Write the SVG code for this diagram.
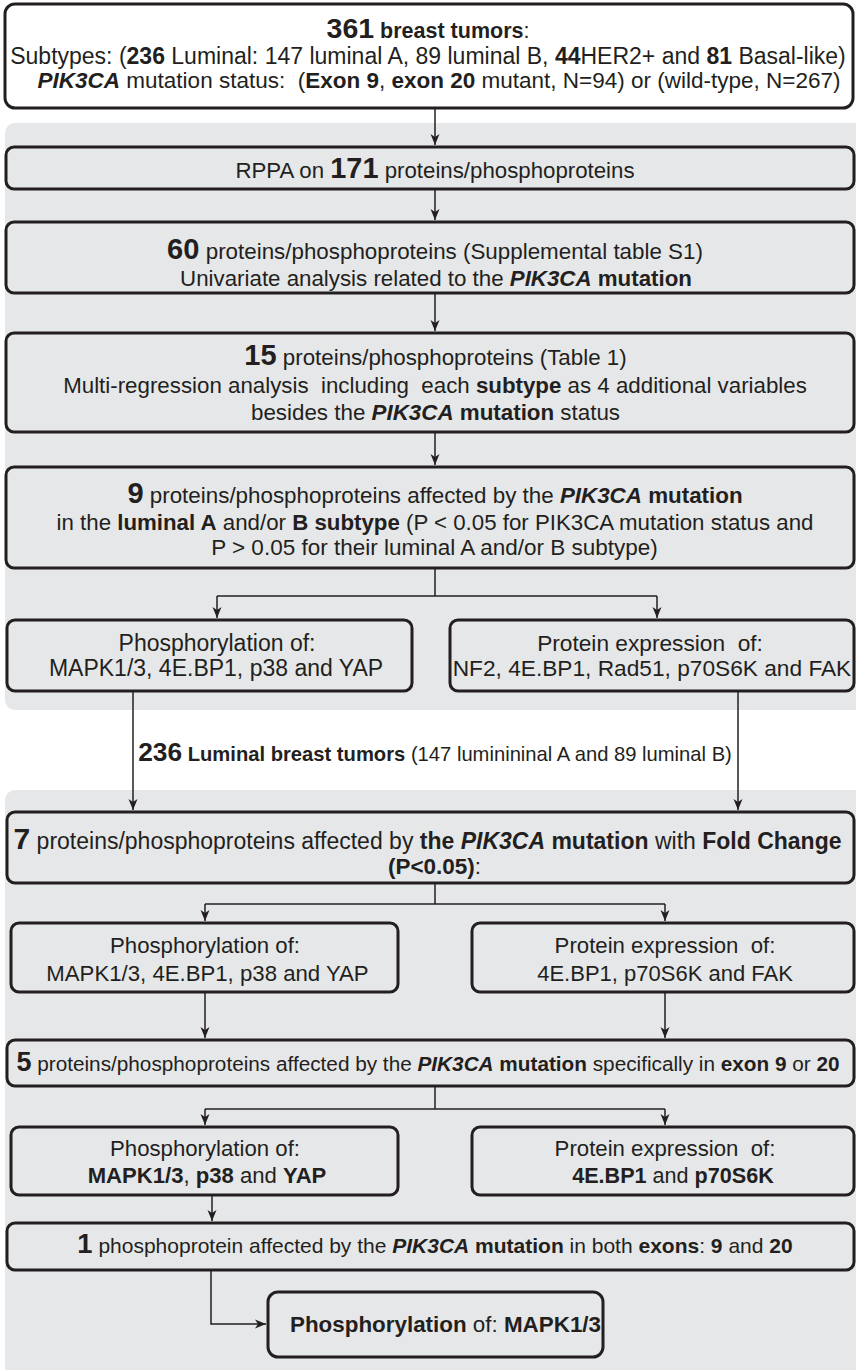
<svg xmlns="http://www.w3.org/2000/svg" width="856" height="1370" viewBox="0 0 856 1370">
<style>
.t{font-family:"Liberation Sans",Arial,Helvetica,sans-serif;font-size:22.3px;fill:#231f20;white-space:pre;text-anchor:middle}
.b{font-weight:bold}
.bi{font-weight:bold;font-style:italic}
.n{font-weight:bold}
.panel{fill:#e6e7e8;stroke:none}
.box{fill:none;stroke:#231f20;stroke-width:3}
.c{fill:none;stroke:#231f20;stroke-width:1.5}
</style>
<defs>
<marker id="ah" markerUnits="userSpaceOnUse" markerWidth="12" markerHeight="10" viewBox="0 0 12 10" refX="11" refY="5" orient="auto">
<path d="M0,0.5 L11,5 L0,9.5 L3,5 Z" fill="#231f20"/>
</marker>
</defs>

<rect class="panel" x="5" y="123" width="870" height="587" rx="10"/>
<rect class="panel" x="5" y="790" width="870" height="600" rx="10"/>

<g id="n-top">
<rect x="5" y="4" width="848" height="104" rx="10" fill="#fff" stroke="#231f20" stroke-width="3"/>
<text class="t" x="428" y="38" style="font-size:21.5px"><tspan class="n" style="font-size:28.5px">361</tspan><tspan class="b"> breast tumors</tspan>:</text>
<text class="t" x="428" y="64" style="font-size:23px">Subtypes: (<tspan class="b">236</tspan> Luminal: 147 luminal A, 89 luminal B, <tspan class="b">44</tspan>HER2+ and <tspan class="b">81</tspan> Basal-like)</text>
<text class="t" x="439" y="88" style="font-size:22.5px"><tspan class="bi">PIK3CA</tspan> mutation status:  (<tspan class="b">Exon 9</tspan>, <tspan class="b">exon 20</tspan> mutant, N=94) or (wild-type, N=267)</text>
</g>

<g id="n-rppa">
<rect class="box" x="6" y="147" width="848" height="42" rx="8"/>
<text class="t" x="435" y="178" style="font-size:22.25px">RPPA on <tspan class="n" style="font-size:28.9px">171</tspan> proteins/phosphoproteins</text>
</g>

<g id="n-60">
<rect class="box" x="6" y="222" width="848" height="71" rx="8"/>
<text class="t" x="435" y="259" style="font-size:22.37px"><tspan class="n" style="font-size:29.1px">60</tspan> proteins/phosphoproteins (Supplemental table S1)</text>
<text class="t" x="436" y="286" style="font-size:22.31px">Univariate analysis related to the <tspan class="bi">PIK3CA</tspan><tspan class="b"> mutation</tspan></text>
</g>

<g id="n-15">
<rect class="box" x="6" y="333" width="848" height="99" rx="8"/>
<text class="t" x="435.5" y="365" style="font-size:22.34px"><tspan class="n" style="font-size:29px">15</tspan> proteins/phosphoproteins (Table 1)</text>
<text class="t" x="435" y="393" style="font-size:22.31px">Multi-regression analysis  including  each <tspan class="b">subtype</tspan> as 4 additional variables</text>
<text class="t" x="435.5" y="420" style="font-size:22.36px">besides the <tspan class="bi">PIK3CA</tspan><tspan class="b"> mutation</tspan> status</text>
</g>

<g id="n-9">
<rect class="box" x="6" y="467" width="848" height="101" rx="8"/>
<text class="t" x="435" y="503" style="font-size:22.39px"><tspan class="n" style="font-size:29.1px">9</tspan> proteins/phosphoproteins affected by the <tspan class="bi">PIK3CA</tspan><tspan class="b"> mutation</tspan></text>
<text class="t" x="435" y="530" style="font-size:22.27px">in the <tspan class="b">luminal A</tspan> and/or <tspan class="b">B subtype</tspan> (P &lt; 0.05 for PIK3CA mutation status and</text>
<text class="t" x="434.5" y="555" style="font-size:22.5px">P &gt; 0.05 for their luminal A and/or B subtype)</text>
</g>

<g id="n-r1-left">
<rect class="box" x="7" y="620" width="405" height="71" rx="8"/>
<text class="t" x="217" y="651" style="font-size:23px">Phosphorylation of:</text>
<text class="t" x="216" y="676" style="font-size:23px">MAPK1/3, 4E.BP1, p38 and YAP</text>
</g>

<g id="n-r1-right">
<rect class="box" x="450" y="620" width="404" height="71" rx="8"/>
<text class="t" x="650" y="651" style="font-size:22.7px">Protein expression  of:</text>
<text class="t" x="652" y="676" style="font-size:22.7px">NF2, 4E.BP1, Rad51, p70S6K and FAK</text>
</g>

<g id="n-236">
<text class="t" x="435" y="761" style="font-size:20.2px"><tspan class="n" style="font-size:26.3px">236</tspan><tspan class="b"> Luminal breast tumors</tspan> (147 luminininal A and 89 luminal B)</text>
</g>

<g id="n-7">
<rect class="box" x="7" y="812" width="847" height="71" rx="8"/>
<text class="t" x="427.5" y="849" style="font-size:23px"><tspan class="n" style="font-size:30px">7</tspan> proteins/phosphoproteins affected by <tspan class="b">the </tspan><tspan class="bi">PIK3CA</tspan><tspan class="b"> mutation</tspan> with <tspan class="b">Fold Change</tspan></text>
<text class="t" x="434.5" y="874" style="font-size:22.5px"><tspan class="b">(P&lt;0.05)</tspan>:</text>
</g>

<g id="n-r2-left">
<rect class="box" x="11" y="923" width="387" height="69" rx="8"/>
<text class="t" x="205" y="953" style="font-size:22.2px">Phosphorylation of:</text>
<text class="t" x="207.5" y="981" style="font-size:22.2px">MAPK1/3, 4E.BP1, p38 and YAP</text>
</g>

<g id="n-r2-right">
<rect class="box" x="472" y="923" width="382" height="69" rx="8"/>
<text class="t" x="665" y="953" style="font-size:22.2px">Protein expression  of:</text>
<text class="t" x="665" y="981" style="font-size:22px">4E.BP1, p70S6K and FAK</text>
</g>

<g id="n-5">
<rect class="box" x="7" y="1040" width="847" height="46" rx="8"/>
<text class="t" x="428" y="1071" style="font-size:20.76px"><tspan class="n" style="font-size:27px">5</tspan> proteins/phosphoproteins affected by the <tspan class="bi">PIK3CA</tspan><tspan class="b"> mutation</tspan> specifically in <tspan class="b">exon 9</tspan> or <tspan class="b">20</tspan></text>
</g>

<g id="n-r3-left">
<rect class="box" x="11" y="1127" width="387" height="68" rx="8"/>
<text class="t" x="205" y="1156" style="font-size:22.2px">Phosphorylation of:</text>
<text class="t" x="207" y="1183" style="font-size:22.1px"><tspan class="b">MAPK1/3</tspan>, <tspan class="b">p38</tspan> and <tspan class="b">YAP</tspan></text>
</g>

<g id="n-r3-right">
<rect class="box" x="472" y="1127" width="382" height="68" rx="8"/>
<text class="t" x="665" y="1156" style="font-size:22.2px">Protein expression  of:</text>
<text class="t" x="673" y="1183" style="font-size:21.6px"><tspan class="b">4E.BP1</tspan> and <tspan class="b">p70S6K</tspan></text>
</g>

<g id="n-1">
<rect class="box" x="7" y="1223" width="847" height="47" rx="8"/>
<text class="t" x="435" y="1253" style="font-size:21px"><tspan class="n" style="font-size:27.3px">1</tspan> phosphoprotein affected by the <tspan class="bi">PIK3CA</tspan><tspan class="b"> mutation</tspan> in both <tspan class="b">exons</tspan>: <tspan class="b">9</tspan> and <tspan class="b">20</tspan></text>
</g>

<g id="n-final">
<rect class="box" x="268" y="1292" width="335" height="65" rx="10"/>
<text class="t" x="445.5" y="1332" style="font-size:22.4px"><tspan class="b">Phosphorylation</tspan> of: <tspan class="b">MAPK1/3</tspan></text>
</g>

<g id="connectors">
<path class="c" d="M435,108 V145" marker-end="url(#ah)"/>
<path class="c" d="M435,189 V220" marker-end="url(#ah)"/>
<path class="c" d="M435,293 V331" marker-end="url(#ah)"/>
<path class="c" d="M435,432 V465" marker-end="url(#ah)"/>
<path class="c" d="M435,568 V596"/>
<path class="c" d="M217,596 H657"/>
<path class="c" d="M217,596 V618" marker-end="url(#ah)"/>
<path class="c" d="M657,596 V618" marker-end="url(#ah)"/>
<path class="c" d="M133,691 V810" marker-end="url(#ah)"/>
<path class="c" d="M738,691 V810" marker-end="url(#ah)"/>
<path class="c" d="M435,883 V904"/>
<path class="c" d="M205,904 H665"/>
<path class="c" d="M205,904 V921" marker-end="url(#ah)"/>
<path class="c" d="M665,904 V921" marker-end="url(#ah)"/>
<path class="c" d="M205,992 V1038" marker-end="url(#ah)"/>
<path class="c" d="M665,992 V1038" marker-end="url(#ah)"/>
<path class="c" d="M435,1086 V1109"/>
<path class="c" d="M205,1109 H665"/>
<path class="c" d="M205,1109 V1125" marker-end="url(#ah)"/>
<path class="c" d="M665,1109 V1125" marker-end="url(#ah)"/>
<path class="c" d="M212,1195 V1221" marker-end="url(#ah)"/>
<path class="c" d="M211,1270 V1324 H266" marker-end="url(#ah)"/>
</g>
</svg>
